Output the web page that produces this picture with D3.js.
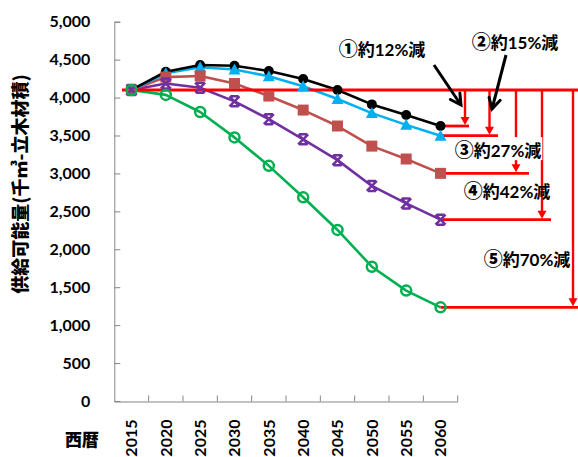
<!DOCTYPE html>
<html><head><meta charset="utf-8">
<script src="https://cdn.jsdelivr.net/npm/d3@7"></script>
<style>
html,body{margin:0;padding:0;background:#fff;}
svg{display:block;}
text{font-family:Lato,"Noto Sans CJK JP",sans-serif;font-weight:bold;}
</style></head>
<body>
<svg id="c" width="578" height="457"></svg>
<script>
const years = ["2015","2020","2025","2030","2035","2040","2045","2050","2055","2060"];
const yTicks = [0,500,1000,1500,2000,2500,3000,3500,4000,4500,5000];
const s1 = [4100,4340,4430,4420,4350,4245,4100,3910,3770,3625];
const s2 = [4100,4320,4400,4370,4280,4150,3980,3795,3640,3497];
const s3 = [4100,4270,4285,4185,4020,3835,3625,3360,3190,3001];
const s4 = [4100,4185,4130,3950,3715,3450,3175,2835,2605,2390];
const s5 = [4100,4035,3810,3475,3100,2685,2255,1770,1455,1235];
const baseValue = 4100;
const labelMarks = ["①","②","③","④","⑤"];
const labels = ["約12%減","約15%減","約27%減","約42%減","約70%減"];
const yTitle = "供給可能量(千㎥-立木材積)";
const xTitle = "西暦";

const series = [
  {v:s1, color:"#000000", marker:"circle"},
  {v:s2, color:"#00B0F0", marker:"triangle"},
  {v:s3, color:"#C0504D", marker:"square"},
  {v:s4, color:"#7030A0", marker:"star"},
  {v:s5, color:"#00B050", marker:"ocircle"}
];

const svg = d3.select("#c");
const x = d3.scaleBand().domain(years).range([114.3, 457.7]);
const y = d3.scaleLinear().domain([0,5000]).range([401, 21.7]);
const cx = d => x(d) + x.bandwidth()/2;
const axisColor = "#868686";

// Y axis
const ya = svg.append("g").attr("transform","translate(114.3,0)")
  .call(d3.axisLeft(y).tickValues(yTicks).tickSize(-6).tickPadding(24).tickFormat(d3.format(",")));
ya.selectAll("path,line").attr("stroke",axisColor);
ya.selectAll("text").attr("font-size",16).attr("fill","#000")
  .style("font-family","Lato,sans-serif");

// X axis
const xa = svg.append("g").attr("transform","translate(0,401.5)")
  .call(d3.axisBottom(x).tickSize(0).tickSizeOuter(0));
xa.select("path").attr("stroke",axisColor);
xa.selectAll("text").attr("font-size",16).attr("fill","#000")
  .attr("transform","rotate(-90)").attr("text-anchor","end")
  .attr("x",-18).attr("y",0).attr("dy","0.36em")
  .style("font-family","Lato,sans-serif");
svg.append("g").selectAll("line").data(years).join("line")
  .attr("x1",d=>x(d)+x.bandwidth()).attr("x2",d=>x(d)+x.bandwidth())
  .attr("y1",401.5).attr("y2",395.5).attr("stroke",axisColor);

// titles
svg.append("text").attr("transform","translate(27,184) rotate(-90)")
  .attr("text-anchor","middle").attr("font-size",18).attr("fill","#000")
  .style("font-family","'Noto Sans CJK JP',sans-serif").style("font-weight","900").text(yTitle);
svg.append("text").attr("x",82).attr("y",446).attr("text-anchor","middle")
  .attr("font-size",17).attr("fill","#000")
  .style("font-family","'Noto Sans CJK JP',sans-serif").style("font-weight","900").text(xTitle);

// series lines
const line = d3.line().x((d,i)=>cx(years[i])).y(d=>y(d));
series.slice().reverse().forEach(s=>{
  svg.append("path").datum(s.v).attr("d",line).attr("fill","none")
    .attr("stroke",s.color).attr("stroke-width",2.6).attr("stroke-linejoin","round");
});

// red annotation
const red = "#FF0000";
const ann = svg.append("g");
const topY = y(baseValue);
ann.append("line").attr("x1",122).attr("x2",578).attr("y1",topY).attr("y2",topY)
  .attr("stroke",red).attr("stroke-width",3);
const bracketX = [465, 489.5, 516, 542, 573];
const bracketEnd = [469, 498, 529, 551, 578];
const lastX = cx(years[years.length-1]);
series.forEach((s,i)=>{
  const ey = y(s.v[s.v.length-1]);
  ann.append("line").attr("x1",lastX).attr("x2",bracketEnd[i]).attr("y1",ey).attr("y2",ey)
    .attr("stroke",red).attr("stroke-width",2.8);
  ann.append("line").attr("x1",bracketX[i]).attr("x2",bracketX[i]).attr("y1",topY).attr("y2",ey-8)
    .attr("stroke",red).attr("stroke-width",2.4);
  ann.append("path").attr("d",`M${bracketX[i]-4.5},${ey-9}L${bracketX[i]+4.5},${ey-9}L${bracketX[i]},${ey-1}Z`)
    .attr("fill",red);
});

// black arrows
function arrow(x1,y1,x2,y2){
  const a = Math.atan2(y2-y1,x2-x1), L=12, w=0.5;
  ann.append("line").attr("x1",x1).attr("y1",y1).attr("x2",x2).attr("y2",y2)
    .attr("stroke","#000").attr("stroke-width",3);
  ann.append("path").attr("d",`M${x2-L*Math.cos(a-w)},${y2-L*Math.sin(a-w)}L${x2},${y2}L${x2-L*Math.cos(a+w)},${y2-L*Math.sin(a+w)}`)
    .attr("fill","none").attr("stroke","#000").attr("stroke-width",3).attr("stroke-linecap","round");
}
arrow(434,65,461,105);
arrow(506,55,492,109);

// markers
const mk = svg.append("g");
series.forEach(s=>{
  s.v.forEach((v,i)=>{
    const px = cx(years[i]), py = y(v);
    if(s.marker==="circle"){
      mk.append("circle").attr("cx",px).attr("cy",py).attr("r",5).attr("fill",s.color);
    } else if(s.marker==="triangle"){
      mk.append("path").attr("d",`M${px},${py-6}L${px+6},${py+5}L${px-6},${py+5}Z`).attr("fill",s.color);
    } else if(s.marker==="square"){
      mk.append("rect").attr("x",px-5.5).attr("y",py-5.5).attr("width",11).attr("height",11).attr("fill",s.color);
    } else if(s.marker==="star"){
      mk.append("path").attr("d",`M${px-5},${py-5}L${px+5},${py+5}M${px+5},${py-5}L${px-5},${py+5}M${px-4},${py-5}L${px+4},${py-5}M${px-4},${py+5}L${px+4},${py+5}`)
        .attr("stroke",s.color).attr("stroke-width",2.5).attr("fill","none");
    } else {
      mk.append("circle").attr("cx",px).attr("cy",py).attr("r",5).attr("fill","none")
        .attr("stroke",s.color).attr("stroke-width",2.5);
    }
  });
});

// labels
const labelPos = [[382,50,false],[515,43,false],[498,151,true],[507,192,false],[527,260,true]];
labelPos.forEach((p,i)=>{
  const t = svg.append("text").attr("x",p[0]).attr("y",p[1]).attr("dy","0.36em")
    .attr("text-anchor","middle").attr("font-size",17).attr("fill","#000");
  t.append("tspan").style("font-family","'Noto Sans CJK JP',sans-serif").style("font-weight","900")
    .attr("font-size",19).text(labelMarks[i]);
  t.append("tspan").text(labels[i]);
  if(p[2]){
    const b = t.node().getBBox();
    svg.insert("rect", function(){return t.node();})
      .attr("x",b.x-1).attr("y",b.y+2).attr("width",b.width+2).attr("height",b.height-4).attr("fill","#fff");
  }
});
</script>
</body></html>
